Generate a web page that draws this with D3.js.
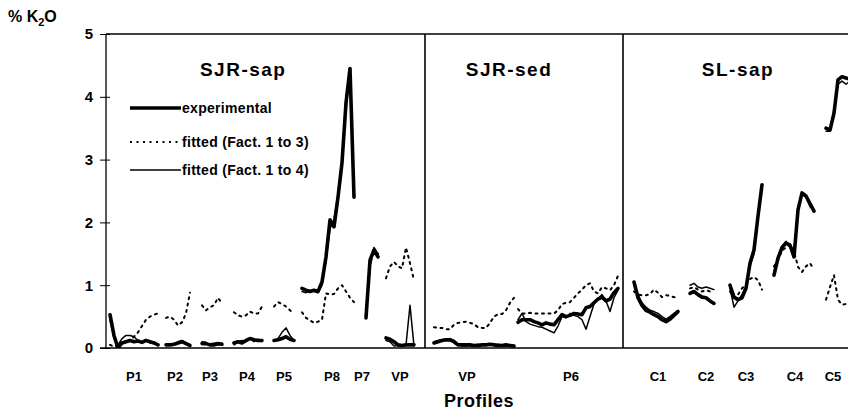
<!DOCTYPE html>
<html>
<head>
<meta charset="utf-8">
<script src="https://cdn.jsdelivr.net/npm/d3@7"></script>
<style>
  body { margin: 0; background: #fff; }
  svg { font-family: "Liberation Sans", Arial, sans-serif; font-weight: bold; }
</style>
</head>
<body>
<div id="wrapper"></div>
<script>
// profiles, first sample index of each, and where the label sits (sample units)
const profiles   = ["P1", "P2", "P3", "P4", "P5", "P8", "P7", "VP", "VP", "P6", "C1", "C2", "C3", "C4", "C5"];
const startIndex = [1, 15, 24, 32, 42, 49, 65, 70, 82, 103, 132, 146, 156, 167, 180];
const labelPos   = [7, 17.25, 26, 35.25, 44.5, 56.5, 64, 73.5, 90.25, 116.25, 138, 150, 160, 172.25, 181.75];

// panel boundaries (sample units) and titles
const panelTitles = ["SJR-sap", "SJR-sed", "SL-sap"];
const panelEdges  = [0, 79.75, 129.25, 186.5];
const titlePos    = [34.3, 100.75, 158];

const yTicks = [0, 1, 2, 3, 4, 5];

// % K2O per sample, one array per profile
const experimental = [
  [0.53, 0.2, 0.0, 0.08, 0.1, 0.12, 0.1, 0.11, 0.09, 0.12, 0.1, 0.08, 0.05],
  [0.05, 0.05, 0.06, 0.08, 0.1, 0.07, 0.04],
  [0.07, 0.07, 0.05, 0.06, 0.07, 0.06],
  [0.08, 0.1, 0.08, 0.12, 0.15, 0.13, 0.12, 0.12],
  [0.12, 0.13, 0.15, 0.18, 0.14, 0.12],
  [0.95, 0.92, 0.9, 0.92, 0.9, 1.05, 1.45, 2.04, 1.93, 2.4, 2.95, 3.9, 4.45, 2.4],
  [0.48, 1.4, 1.56, 1.45],
  [0.16, 0.14, 0.1, 0.05, 0.04, 0.05, 0.05, 0.05],
  [0.08, 0.1, 0.12, 0.13, 0.13, 0.1, 0.05, 0.05, 0.05, 0.05, 0.04, 0.04, 0.05, 0.05, 0.06, 0.05, 0.04, 0.04, 0.05, 0.04, 0.03],
  [0.41, 0.45, 0.45, 0.45, 0.42, 0.4, 0.37, 0.4, 0.38, 0.37, 0.45, 0.53, 0.5, 0.52, 0.55, 0.54, 0.53, 0.64, 0.66, 0.72, 0.78, 0.81, 0.75, 0.78, 0.88, 0.95],
  [1.05, 0.8, 0.68, 0.6, 0.57, 0.53, 0.5, 0.45, 0.42, 0.46, 0.52, 0.58],
  [0.87, 0.9, 0.85, 0.81, 0.8, 0.75, 0.71],
  [1.0, 0.81, 0.77, 0.8, 0.95, 1.35, 1.56, 2.1, 2.6],
  [1.16, 1.43, 1.6, 1.67, 1.64, 1.45, 2.2, 2.47, 2.42, 2.3, 2.18],
  [3.5, 3.47, 3.74, 4.27, 4.32, 4.3, 4.28]
];

const fitted3 = [
  [0.05, 0.02, 0.05, 0.08, 0.1, 0.12, 0.18, 0.25, 0.35, 0.45, 0.5, 0.53, 0.55],
  [0.48, 0.5, 0.45, 0.36, 0.41, 0.55, 0.88],
  [0.68, 0.6, 0.65, 0.68, 0.8, 0.71],
  [0.57, 0.52, 0.5, 0.52, 0.58, 0.55, 0.55, 0.66],
  [0.66, 0.73, 0.7, 0.66, 0.6, 0.55],
  [0.57, 0.48, 0.44, 0.4, 0.42, 0.45, 0.87, 0.85, 0.86, 0.95, 1.0, 0.9, 0.8, 0.73],
  [0.55, 1.3, 1.58, 1.5],
  [1.11, 1.3, 1.37, 1.3, 1.27, 1.6, 1.35, 1.08],
  [0.33, 0.32, 0.32, 0.3, 0.3, 0.37, 0.4, 0.41, 0.42, 0.4, 0.38, 0.33, 0.32, 0.32, 0.4, 0.5, 0.54, 0.54, 0.6, 0.72, 0.8],
  [0.62, 0.55, 0.55, 0.56, 0.55, 0.55, 0.55, 0.55, 0.55, 0.55, 0.6, 0.7, 0.72, 0.73, 0.8, 0.87, 0.93, 1.0, 1.03, 0.9, 0.87, 0.97, 0.95, 0.92, 1.0, 1.15],
  [0.9, 0.85, 0.84, 0.84, 0.86, 0.93, 0.88, 0.81, 0.84, 0.83, 0.81, 0.8],
  [0.95, 0.97, 0.93, 0.9, 0.92, 0.9, 0.88],
  [0.9, 0.8, 0.85, 0.95, 1.0, 1.1, 1.13, 1.08, 0.93],
  [1.3, 1.4, 1.55, 1.6, 1.65, 1.55, 1.29, 1.21, 1.3, 1.35, 1.25],
  [0.77, 0.97, 1.16, 0.77, 0.69, 0.7, 0.72]
];

const fitted4 = [
  [0.45, 0.15, 0.05, 0.15, 0.2, 0.2, 0.18, 0.12, 0.1, 0.13, 0.08, 0.1, 0.05],
  [0.04, 0.06, 0.05, 0.1, 0.12, 0.08, 0.03],
  [0.1, 0.09, 0.04, 0.03, 0.05, 0.08],
  [0.05, 0.1, 0.12, 0.1, 0.16, 0.1, 0.14, 0.1],
  [0.12, 0.15, 0.25, 0.32, 0.2, 0.12],
  [0.9, 0.88, 0.92, 0.9, 0.88, 1.0, 1.4, 1.9, 2.05, 2.45, 3.0, 4.0, 4.4, 2.5],
  [0.6, 1.3, 1.6, 1.5],
  [0.12, 0.1, 0.03, 0.04, 0.03, 0.05, 0.68, 0.03],
  [0.1, 0.12, 0.13, 0.14, 0.15, 0.12, 0.06, 0.03, 0.03, 0.04, 0.05, 0.06, 0.05, 0.05, 0.04, 0.05, 0.06, 0.05, 0.04, 0.05, 0.04],
  [0.45, 0.55, 0.42, 0.38, 0.36, 0.34, 0.33, 0.3, 0.27, 0.24, 0.35, 0.5, 0.48, 0.55, 0.52, 0.5, 0.45, 0.3, 0.5, 0.7, 0.78, 0.85, 0.75, 0.58, 0.8, 0.92],
  [1.0, 0.85, 0.72, 0.65, 0.6, 0.58, 0.55, 0.5, 0.46, 0.5, 0.55, 0.6],
  [1.0, 1.03, 0.97, 0.95, 0.97, 0.95, 0.93],
  [0.95, 0.65, 0.75, 0.85, 0.98, 1.3, 1.5, 2.05, 2.55],
  [1.2, 1.45, 1.62, 1.7, 1.6, 1.5, 2.25, 2.45, 2.4, 2.25, 2.2],
  [3.45, 3.45, 3.8, 4.2, 4.25, 4.2, 4.25]
];

const legendLabels = ["experimental", "fitted (Fact. 1 to 3)", "fitted (Fact. 1 to 4)"];

function buildPlot() {
  const dimension = {
    width: 848,
    height: 420,
    margin: { top: 34, left: 106, bottom: 72, right: -4 }
  };
  dimension.boundedWidth = dimension.width - dimension.margin.left - dimension.margin.right;
  dimension.boundedHeight = dimension.height - dimension.margin.top - dimension.margin.bottom;

  const svg = d3.select("#wrapper").append("svg")
    .attr("width", dimension.width)
    .attr("height", dimension.height);

  const bounded = svg.append("g")
    .attr("transform", `translate(${dimension.margin.left},${dimension.margin.top})`);

  const xScaler = d3.scaleLinear()
    .domain([0, 186.5])
    .range([0, dimension.boundedWidth]);
  const yScaler = d3.scaleLinear()
    .domain([0, 5])
    .range([dimension.boundedHeight, 0]);

  // y axis, ticks crossing the line
  const yAxis = d3.axisLeft(yScaler).tickValues(yTicks).tickFormat(d3.format("d")).tickSize(0).tickPadding(13);
  const yg = bounded.append("g").call(yAxis);
  yg.select(".domain").remove();
  yg.selectAll("text").attr("font-size", 15).attr("font-family", "Liberation Sans, Arial").attr("font-weight", "bold");
  yg.selectAll(".tick").append("line").attr("x1", -6).attr("x2", 4).attr("stroke", "#000");

  // frame: left, top, bottom and panel separators
  bounded.append("line").attr("x1", 0).attr("x2", 0).attr("y1", 0).attr("y2", dimension.boundedHeight).attr("stroke", "#000").attr("stroke-width", 1.3);
  bounded.append("line").attr("x1", 0).attr("x2", dimension.boundedWidth).attr("y1", 0).attr("y2", 0).attr("stroke", "#000").attr("stroke-width", 1.3);
  bounded.append("line").attr("x1", -6).attr("x2", dimension.boundedWidth).attr("y1", yScaler(0)).attr("y2", yScaler(0)).attr("stroke", "#000").attr("stroke-width", 1.3);
  panelEdges.slice(1, -1).forEach(e => {
    bounded.append("line")
      .attr("x1", xScaler(e)).attr("x2", xScaler(e))
      .attr("y1", 0).attr("y2", dimension.boundedHeight)
      .attr("stroke", "#000").attr("stroke-width", 1.6);
  });

  // panel titles
  panelTitles.forEach((t, i) => {
    bounded.append("text")
      .attr("x", xScaler(titlePos[i]))
      .attr("y", 42)
      .attr("text-anchor", "middle")
      .attr("font-size", 19)
      .attr("letter-spacing", 1.5)
      .text(t);
  });

  // x labels
  profiles.forEach((p, i) => {
    bounded.append("text")
      .attr("x", xScaler(labelPos[i]))
      .attr("y", dimension.boundedHeight + 33)
      .attr("text-anchor", "middle")
      .attr("font-size", 13)
      .text(p);
  });

  svg.append("text")
    .attr("x", 479).attr("y", 407)
    .attr("text-anchor", "middle")
    .attr("font-size", 18)
    .attr("letter-spacing", 0.5)
    .text("Profiles");

  const yLabel = svg.append("text").attr("x", 8).attr("y", 22).attr("font-size", 16);
  yLabel.append("tspan").text("% K");
  yLabel.append("tspan").attr("font-size", 11).attr("dy", 4).text("2");
  yLabel.append("tspan").attr("dy", -4).text("O");

  const lineGenerator = d3.line()
    .x(d => xScaler(d.i))
    .y(d => yScaler(d.v));

  const styles = [
    { data: fitted3, width: 2, dash: "2,4.5" },
    { data: fitted4, width: 1.5, dash: null },
    { data: experimental, width: 3.6, dash: null }
  ];

  bounded.append("clipPath").attr("id", "plotclip")
    .append("rect").attr("x", 0).attr("y", -5).attr("width", dimension.boundedWidth).attr("height", dimension.boundedHeight + 5);

  const lines = bounded.append("g").attr("clip-path", "url(#plotclip)");
  styles.forEach(s => {
    s.data.forEach((arr, k) => {
      const pts = arr.map((v, j) => ({ i: startIndex[k] + j, v: v }));
      lines.append("path")
        .attr("d", lineGenerator(pts))
        .attr("fill", "none")
        .attr("stroke", "#000")
        .attr("stroke-width", s.width)
        .attr("stroke-dasharray", s.dash)
        .attr("stroke-linejoin", "round")
        .attr("stroke-linecap", "round");
    });
  });

  // legend
  const legendStyles = [
    { width: 3.6, dash: null },
    { width: 2, dash: "2,4.5" },
    { width: 1.5, dash: null }
  ];
  const legendY = [74, 108, 136];
  legendLabels.forEach((label, i) => {
    bounded.append("line")
      .attr("x1", 24).attr("x2", 75)
      .attr("y1", legendY[i]).attr("y2", legendY[i])
      .attr("stroke", "#000")
      .attr("stroke-width", legendStyles[i].width)
      .attr("stroke-dasharray", legendStyles[i].dash);
    bounded.append("text")
      .attr("x", 76).attr("y", legendY[i] + 5)
      .attr("font-size", 14)
      .attr("letter-spacing", 0.3)
      .text(label);
  });
}

buildPlot();
</script>
</body>
</html>
